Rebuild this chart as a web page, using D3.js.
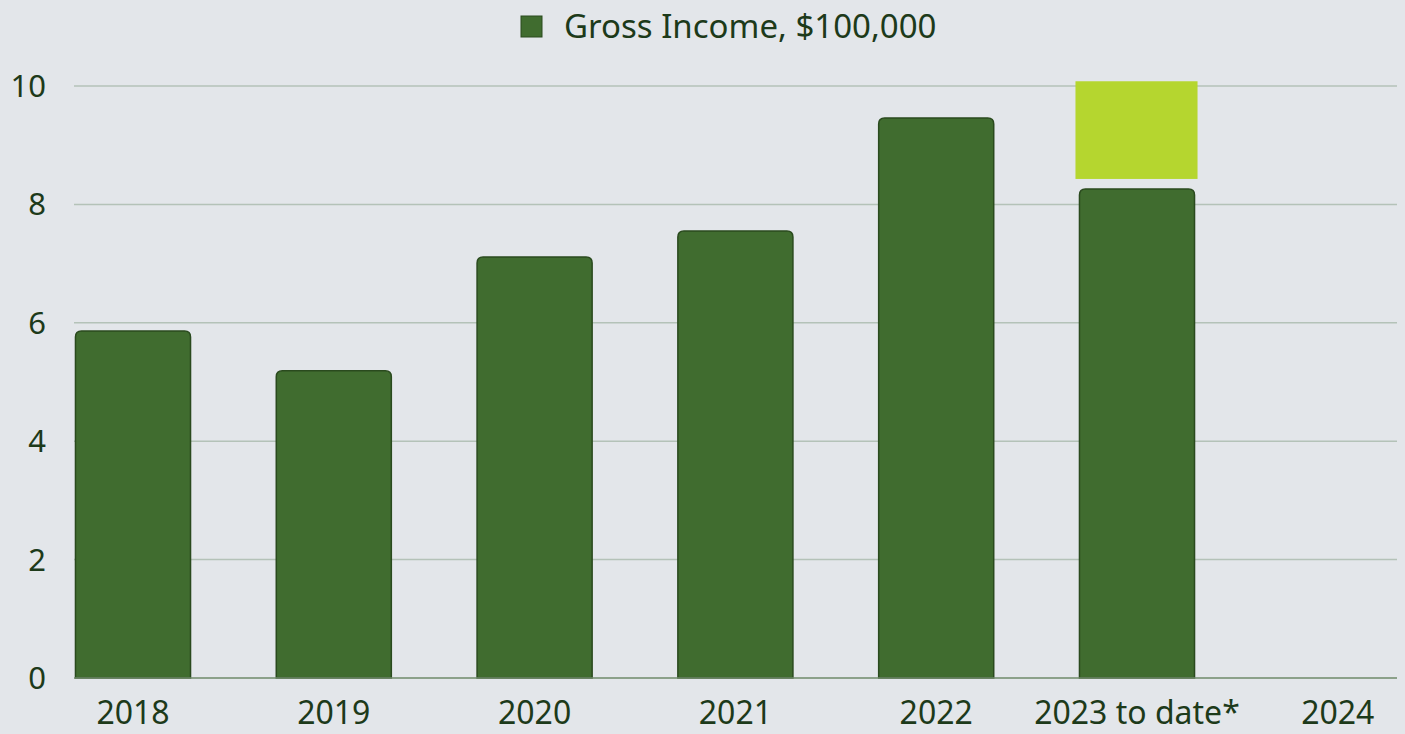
<!DOCTYPE html>
<html>
<head>
<meta charset="utf-8">
<script src="https://cdn.jsdelivr.net/npm/d3@7"></script>
<style>
  html, body { margin: 0; padding: 0; background: #e3e6ea; }
  svg { display: block; font-family: "Noto Sans", sans-serif; }
</style>
</head>
<body>
<svg width="1405" height="734"></svg>
<script>
const years = ["2018", "2019", "2020", "2021", "2022", "2023 to date*", "2024"];
const income = [5.86, 5.19, 7.11, 7.55, 9.46, 8.26, null];
// light green block drawn over 2023 (projection range)
const projLow = 8.43;
const projHigh = 10.08;
const yTicks = [0, 2, 4, 6, 8, 10];

const svg = d3.select("svg");

const scaleY = d3.scaleLinear().domain([0, 10]).range([678, 86]);
const scaleX = d3
  .scaleBand()
  .domain(years)
  .range([32.6, 1438.2])
  .paddingInner(0.427)
  .paddingOuter(0.2135);

// grid
svg
  .append("g")
  .selectAll("line")
  .data(yTicks.filter(d => d > 0))
  .enter()
  .append("line")
  .attr("x1", 74)
  .attr("x2", 1397)
  .attr("y1", d => scaleY(d))
  .attr("y2", d => scaleY(d))
  .attr("stroke", "#b4c2b8")
  .attr("stroke-width", 1.5);

// y labels
svg
  .append("g")
  .selectAll("text")
  .data(yTicks)
  .enter()
  .append("text")
  .attr("x", 46)
  .attr("y", d => scaleY(d) + 11)
  .attr("text-anchor", "end")
  .attr("font-size", 31)
  .attr("fill", "#1d3a1a")
  .text(d => d);

// bars with rounded tops
const barPath = (x, y, w, h, r) =>
  `M${x},${y + h} V${y + r} Q${x},${y} ${x + r},${y} H${x + w - r} Q${x + w},${y} ${x + w},${y + r} V${y + h} Z`;

svg
  .append("g")
  .selectAll("path")
  .data(years.map((y, i) => ({ year: y, v: income[i] })).filter(d => d.v != null))
  .enter()
  .append("path")
  .attr("d", d => {
    const x = scaleX(d.year);
    const y = scaleY(d.v);
    return barPath(x, y, scaleX.bandwidth(), scaleY(0) - y, 6);
  })
  .attr("fill", "#406c2f")
  .attr("stroke", "#2a4a1e")
  .attr("stroke-width", 1.5);

// projection block
const px = scaleX("2023 to date*");
svg
  .append("rect")
  .attr("x", px - 4)
  .attr("y", scaleY(projHigh))
  .attr("width", scaleX.bandwidth() + 7)
  .attr("height", scaleY(projLow) - scaleY(projHigh))
  .attr("fill", "#b5d62f");

// baseline
svg
  .append("line")
  .attr("x1", 74)
  .attr("x2", 1397)
  .attr("y1", scaleY(0))
  .attr("y2", scaleY(0))
  .attr("stroke", "#6f8a6a")
  .attr("stroke-width", 1.5);

// x labels
svg
  .append("g")
  .selectAll("text")
  .data(years)
  .enter()
  .append("text")
  .attr("x", d => scaleX(d) + scaleX.bandwidth() / 2)
  .attr("y", 724)
  .attr("text-anchor", "middle")
  .attr("font-size", 32)
  .attr("fill", "#1d3a1a")
  .text(d => d);

// legend
svg
  .append("rect")
  .attr("x", 521)
  .attr("y", 16)
  .attr("width", 21)
  .attr("height", 21)
  .attr("fill", "#406c2f")
  .attr("stroke", "#2a4a1e");

svg
  .append("text")
  .attr("x", 564)
  .attr("y", 38)
  .attr("font-size", 33)
  .attr("fill", "#1d3a1a")
  .text("Gross Income, $100,000");
</script>
</body>
</html>
